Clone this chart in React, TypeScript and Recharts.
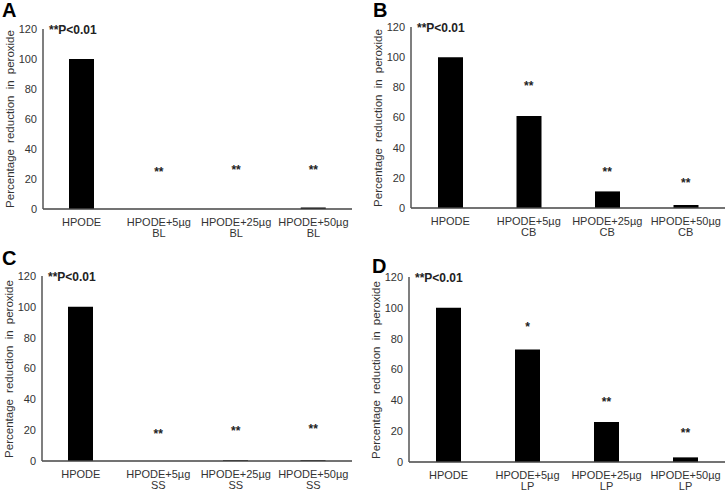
import React from "react";
import {
  ComposedChart,
  Bar,
  Line,
  XAxis,
  YAxis,
  LabelList,
} from "recharts";

// categories
const doses = ["HPODE", "HPODE+5µg", "HPODE+25µg", "HPODE+50µg"];
const yTicks = [0, 20, 40, 60, 80, 100, 120];

// bar values per extract
const blValues = [100, 0, 0, 1];
const cbValues = [100, 61, 11, 2];
const ssValues = [100, 0, 0.5, 0.5];
const lpValues = [100, 73, 26, 3];

// significance marks and where they sit (in y units)
const blStars = ["", "**", "**", "**"];
const blStarY = [null, 25, 26.5, 26];
const cbStars = ["", "**", "**", "**"];
const cbStarY = [null, 81, 24, 17];
const ssStars = ["", "**", "**", "**"];
const ssStarY = [null, 17.5, 19.5, 21];
const lpStars = ["", "*", "**", "**"];
const lpStarY = [null, 87.5, 39, 19];

const FONT = "'Liberation Sans', Arial, sans-serif";

const buildRows = (
  extract: string,
  values: number[],
  stars: string[],
  starY: (number | null)[]
) =>
  doses.map((d, i) => ({
    name: d,
    sub: i === 0 ? "" : extract,
    value: values[i],
    star: stars[i],
    starY: starY[i],
  }));

const DoseTick = (props: any) => {
  const { x, y, payload, subs } = props;
  const sub = subs[payload.index];
  return (
    <g transform={`translate(${x},${y})`}>
      <text textAnchor="middle" fill="#333" fontSize={11} fontFamily={FONT}>
        <tspan x={0} dy={9}>
          {payload.value}
        </tspan>
        {sub ? (
          <tspan x={0} dy={11}>
            {sub}
          </tspan>
        ) : null}
      </text>
    </g>
  );
};

type PanelProps = {
  letter: string;
  extract: string;
  values: number[];
  stars: string[];
  starY: (number | null)[];
  left: number;
  top: number;
  axisX: number;
  plotTop: number;
  plotBottom: number;
  right: number;
  letterX: number;
  letterY: number;
};

const Panel = (p: PanelProps) => {
  const rows = buildRows(p.extract, p.values, p.stars, p.starY);
  const subs = rows.map((r) => r.sub);
  const W = 363;
  const xH = 40;
  const H = p.plotBottom + xH;
  const yW = 28;
  return (
    <div style={{ position: "absolute", left: p.left, top: p.top, width: W, height: H }}>
      <ComposedChart
        width={W}
        height={H}
        data={rows}
        margin={{ top: p.plotTop, right: p.right, bottom: 0, left: p.axisX - yW }}
        barCategoryGap="34%"
      >
        <XAxis
          dataKey="name"
          axisLine={{ stroke: "#444", strokeWidth: 1.5 }}
          tickLine={false}
          height={xH}
          interval={0}
          tick={<DoseTick subs={subs} />}
        />
        <YAxis
          domain={[0, 120]}
          ticks={yTicks}
          width={yW}
          axisLine={{ stroke: "#555", strokeWidth: 1.5 }}
          tickLine={false}
          tickSize={4}
          tickMargin={2}
          tick={{ fill: "#333", fontSize: 11, fontFamily: FONT }}
        />
        <Bar dataKey="value" fill="#000" barSize={25} isAnimationActive={false} />
        <Line
          dataKey="starY"
          stroke="none"
          dot={false}
          activeDot={false}
          isAnimationActive={false}
        >
          <LabelList
            dataKey="star"
            position="center"
            fill="#222"
            fontSize={12}
            fontWeight="bold"
            fontFamily={FONT}
          />
        </Line>
      </ComposedChart>
      <div
        style={{
          position: "absolute",
          left: p.letterX,
          top: p.letterY,
          fontFamily: FONT,
          fontWeight: "bold",
          fontSize: 20,
          lineHeight: "20px",
        }}
      >
        {p.letter}
      </div>
      <div
        style={{
          position: "absolute",
          left: p.axisX + 6,
          top: p.plotTop - 7,
          fontFamily: FONT,
          fontWeight: "bold",
          fontSize: 12,
          lineHeight: "16px",
          color: "#222",
        }}
      >
        **P&lt;0.01
      </div>
      <div
        style={{
          position: "absolute",
          left: p.axisX - 33 - 90,
          top: (p.plotTop + p.plotBottom) / 2 - 8,
          width: 180,
          textAlign: "center",
          transform: "rotate(-90deg)",
          fontFamily: FONT,
          fontSize: 11.5,
          lineHeight: "16px",
          color: "#333",
          whiteSpace: "nowrap",
          wordSpacing: 3,
        }}
      >
        Percentage reduction in peroxide
      </div>
    </div>
  );
};

export default function App() {
  return (
    <div
      style={{
        position: "absolute",
        left: 0,
        top: 0,
        width: 726,
        height: 491,
        background: "#fff",
        overflow: "hidden",
      }}
    >
      <Panel
        letter="A"
        extract="BL"
        values={blValues}
        stars={blStars}
        starY={blStarY}
        left={0}
        top={0}
        axisX={43}
        plotTop={29}
        plotBottom={209}
        right={11}
        letterX={2}
        letterY={0}
      />
      <Panel
        letter="B"
        extract="CB"
        values={cbValues}
        stars={cbStars}
        starY={cbStarY}
        left={363}
        top={0}
        axisX={48}
        plotTop={27}
        plotBottom={208}
        right={1}
        letterX={10}
        letterY={0}
      />
      <Panel
        letter="C"
        extract="SS"
        values={ssValues}
        stars={ssStars}
        starY={ssStarY}
        left={0}
        top={245}
        axisX={42}
        plotTop={31}
        plotBottom={216}
        right={11}
        letterX={2}
        letterY={3}
      />
      <Panel
        letter="D"
        extract="LP"
        values={lpValues}
        stars={lpStars}
        starY={lpStarY}
        left={363}
        top={245}
        axisX={46}
        plotTop={32}
        plotBottom={217}
        right={1}
        letterX={9}
        letterY={11}
      />
    </div>
  );
}
